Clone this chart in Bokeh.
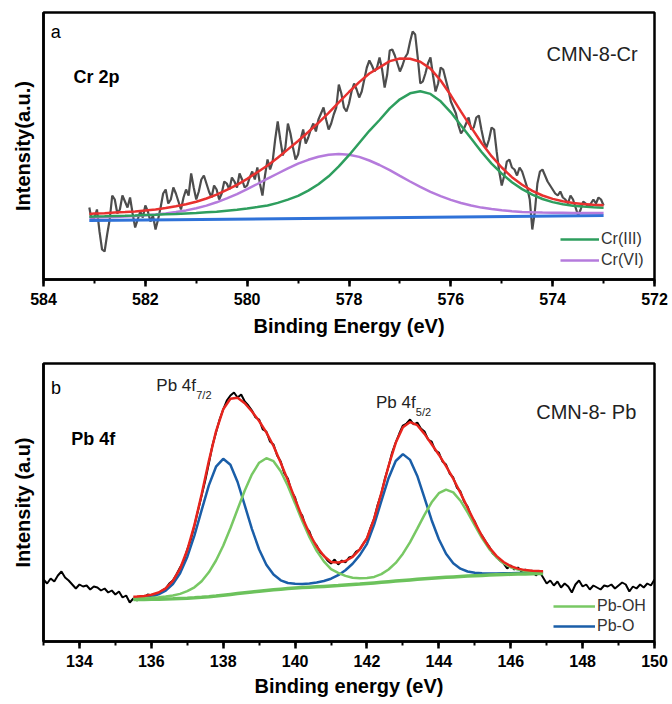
from bokeh.plotting import figure
from bokeh.layouts import column
from bokeh.models import Range1d, SingleIntervalTicker, FixedTicker, Label, Legend, LegendItem
from bokeh.embed import file_html
from bokeh.resources import INLINE

FONT = "Liberation Sans"

# ---------------- panel a : Cr 2p ----------------
cr_raw_be = [583.1, 583.05, 583.0, 582.95, 582.9, 582.85, 582.8, 582.75, 582.7, 582.65,
             582.6, 582.55, 582.5, 582.45, 582.4, 582.35, 582.3, 582.25, 582.2, 582.15,
             582.1, 582.05, 582.0, 581.95, 581.9, 581.85, 581.8, 581.75, 581.7, 581.65,
             581.6, 581.55, 581.5, 581.45, 581.4, 581.35, 581.3, 581.25, 581.2, 581.15,
             581.1, 581.05, 581.0, 580.95, 580.9, 580.85, 580.8, 580.75, 580.7, 580.65,
             580.6, 580.55, 580.5, 580.45, 580.4, 580.35, 580.3, 580.25, 580.2, 580.15,
             580.1, 580.05, 580.0, 579.95, 579.9, 579.85, 579.8, 579.75, 579.7, 579.65,
             579.6, 579.55, 579.5, 579.45, 579.4, 579.35, 579.3, 579.25, 579.2, 579.15,
             579.1, 579.05, 579.0, 578.95, 578.9, 578.85, 578.8, 578.75, 578.7, 578.65,
             578.6, 578.55, 578.5, 578.45, 578.4, 578.35, 578.3, 578.25, 578.2, 578.15,
             578.1, 578.05, 578.0, 577.95, 577.9, 577.85, 577.8, 577.75, 577.7, 577.65,
             577.6, 577.55, 577.5, 577.45, 577.4, 577.35, 577.3, 577.25, 577.2, 577.15,
             577.1, 577.05, 577.0, 576.95, 576.9, 576.85, 576.8, 576.75, 576.7, 576.65,
             576.6, 576.55, 576.5, 576.45, 576.4, 576.35, 576.3, 576.25, 576.2, 576.15,
             576.1, 576.05, 576.0, 575.95, 575.9, 575.85, 575.8, 575.75, 575.7, 575.65,
             575.6, 575.55, 575.5, 575.45, 575.4, 575.35, 575.3, 575.25, 575.2, 575.15,
             575.1, 575.05, 575.0, 574.95, 574.9, 574.85, 574.8, 574.75, 574.7, 574.65,
             574.6, 574.55, 574.5, 574.45, 574.4, 574.35, 574.3, 574.25, 574.2, 574.15,
             574.1, 574.05, 574.0, 573.95, 573.9, 573.85, 573.8, 573.75, 573.7, 573.65,
             573.6, 573.55, 573.5, 573.45, 573.4, 573.35, 573.3, 573.25, 573.2, 573.15,
             573.1, 573.05, 573.0]
cr_raw = [72, 58, 62, 70, 48, 30, 28, 45, 60, 84,
          80, 66, 70, 84, 78, 72, 82, 66, 52, 60,
          68, 62, 74, 68, 58, 64, 50, 60, 72, 86,
          90, 76, 80, 92, 86, 78, 70, 82, 90, 84,
          106, 92, 80, 88, 100, 104, 96, 88, 82, 94,
          90, 80, 86, 98, 96, 90, 102, 98, 92, 106,
          100, 92, 94, 102, 108, 100, 112, 96, 84, 104,
          120, 110, 118, 140, 158, 140, 124, 132, 156, 146,
          132, 120, 125, 140, 150, 136, 142, 150, 156, 148,
          160, 166, 172, 160, 150, 156, 165, 172, 195, 186,
          172, 168, 176, 188, 196, 190, 182, 188, 200, 212,
          219, 214, 208, 212, 222, 210, 192, 205, 229, 230,
          224, 216, 208, 214, 222, 226, 238, 248, 245, 222,
          196, 198, 206, 216, 222, 204, 188, 196, 212, 210,
          200, 190, 178, 172, 166, 154, 146, 150, 156, 162,
          150, 152, 162, 164, 150, 138, 132, 140, 152, 150,
          128, 108, 94, 104, 118, 120, 112, 110, 104, 112,
          108, 100, 92, 80, 50, 68, 96, 108, 110, 104,
          98, 94, 90, 86, 84, 88, 82, 80, 76, 84,
          80, 72, 64, 70, 78, 76, 72, 76, 80, 76,
          82, 80, 74]

cr_fit_be = [583.1, 583.0, 582.8, 582.6, 582.4, 582.2, 582.0, 581.8, 581.6, 581.4,
             581.2, 581.0, 580.8, 580.6, 580.4, 580.2, 580.0, 579.8, 579.6, 579.4,
             579.2, 579.0, 578.8, 578.6, 578.4, 578.2, 578.0, 577.8, 577.6, 577.4,
             577.2, 577.0, 576.8, 576.6, 576.4, 576.2, 576.0, 575.8, 575.6, 575.4,
             575.2, 575.0, 574.8, 574.6, 574.4, 574.2, 574.0, 573.8, 573.6, 573.4,
             573.2, 573.0]
cr3 = [62.8, 63.0, 63.2, 63.6, 63.8, 64.1, 64.5, 64.8, 65.2, 65.6,
       66.1, 66.6, 67.2, 67.8, 68.8, 69.8, 70.9, 72.4, 74.0, 76.6,
       79.9, 83.7, 88.9, 95.3, 103.2, 113.1, 124.3, 136.5, 148.7, 159.5,
       171.1, 180.2, 186.2, 188.3, 185.6, 178.2, 167.2, 154.1, 140.9, 127.8,
       115.9, 105.9, 97.2, 90.4, 84.8, 80.5, 77.4, 75.2, 73.8, 72.9,
       72.3, 71.8]
cr6 = [61.8, 61.9, 62.2, 62.6, 62.9, 63.5, 64.2, 65.0, 66.0, 67.4,
       69.1, 71.2, 73.9, 77.2, 81.1, 85.4, 90.3, 95.5, 100.8, 106.0,
       111.2, 115.8, 119.7, 122.7, 124.7, 125.5, 124.8, 122.6, 119.0, 114.5,
       109.3, 103.6, 98.0, 92.6, 87.7, 83.3, 79.6, 76.5, 74.0, 71.9,
       70.4, 69.2, 68.3, 67.6, 67.2, 66.9, 66.7, 66.7, 66.6, 66.5,
       66.5, 66.4]
cr_env = [65.6, 65.9, 66.2, 66.9, 67.4, 68.1, 69.1, 70.1, 71.4, 73.2,
          75.3, 77.8, 81.0, 84.8, 89.6, 94.7, 100.6, 107.3, 114.0, 121.7,
          130.1, 138.5, 147.5, 156.7, 166.6, 177.1, 187.5, 197.4, 206.0, 212.1,
          218.4, 221.0, 220.8, 217.8, 210.9, 199.0, 184.2, 167.9, 152.1, 136.8,
          123.3, 112.0, 102.3, 94.8, 88.6, 84.0, 80.6, 78.2, 76.6, 75.6,
          74.8, 74.2]
cr_base_be = [583.1, 573.0]
cr_base = [59.0, 64.0]

# ---------------- panel b : Pb 4f ----------------
pb_raw_be = [133.0, 133.1, 133.2, 133.3, 133.4, 133.5, 133.6, 133.7, 133.8, 133.9,
             134.0, 134.1, 134.2, 134.3, 134.4, 134.5, 134.6, 134.7, 134.8, 134.9,
             135.0, 135.1, 135.2, 135.3, 135.4, 135.5, 135.6, 135.7, 135.8, 135.9,
             136.0, 136.1, 136.2, 136.3, 136.4, 136.5, 136.6, 136.7, 136.8, 136.9,
             137.0, 137.1, 137.2, 137.3, 137.4, 137.5, 137.6, 137.7, 137.8, 137.9,
             138.0, 138.1, 138.2, 138.3, 138.4, 138.5, 138.6, 138.7, 138.8, 138.9,
             139.0, 139.1, 139.2, 139.3, 139.4, 139.5, 139.6, 139.7, 139.8, 139.9,
             140.0, 140.1, 140.2, 140.3, 140.4, 140.5, 140.6, 140.7, 140.8, 140.9,
             141.0, 141.1, 141.2, 141.3, 141.4, 141.5, 141.6, 141.7, 141.8, 141.9,
             142.0, 142.1, 142.2, 142.3, 142.4, 142.5, 142.6, 142.7, 142.8, 142.9,
             143.0, 143.1, 143.2, 143.3, 143.4, 143.5, 143.6, 143.7, 143.8, 143.9,
             144.0, 144.1, 144.2, 144.3, 144.4, 144.5, 144.6, 144.7, 144.8, 144.9,
             145.0, 145.1, 145.2, 145.3, 145.4, 145.5, 145.6, 145.7, 145.8, 145.9,
             146.0, 146.1, 146.2, 146.3, 146.4, 146.5, 146.6, 146.7, 146.8, 146.9,
             147.0, 147.1, 147.2, 147.3, 147.4, 147.5, 147.6, 147.7, 147.8, 147.9,
             148.0, 148.1, 148.2, 148.3, 148.4, 148.5, 148.6, 148.7, 148.8, 148.9,
             149.0, 149.1, 149.2, 149.3, 149.4, 149.5, 149.6, 149.7, 149.8, 149.9,
             150.0]
pb_raw = [62, 58, 63, 60, 66, 70, 64, 61, 57, 53,
          57, 55, 56, 52, 55, 54, 51, 53, 49, 51,
          47, 50, 44, 46, 39, 43, 41, 45, 44, 47,
          46, 46, 48, 51, 53, 58, 61, 67, 74, 80,
          92, 102, 116, 131, 146, 161, 178, 196, 209, 222,
          232, 241, 246, 249, 244, 247, 240, 236, 231, 224,
          222, 212, 210, 200, 197, 186, 180, 168, 163, 150,
          144, 131, 126, 114, 110, 100, 96, 89, 86, 81,
          78, 82, 77, 81, 79, 84, 85, 90, 92, 98,
          103, 114, 123, 137, 148, 163, 175, 189, 199, 208,
          216, 218, 222, 217, 219, 213, 210, 202, 200, 191,
          189, 180, 177, 168, 164, 154, 150, 140, 135, 125,
          120, 111, 106, 100, 95, 88, 85, 81, 78, 73,
          76, 72, 74, 70, 72, 69, 71, 66, 70, 64,
          58, 61, 56, 60, 54, 58, 55, 49, 57, 61,
          55, 57, 52, 56, 54, 52, 56, 55, 57, 53,
          56, 59, 57, 50, 55, 53, 57, 54, 58, 56,
          62]

pb_fit_be = [135.5, 135.6, 135.8, 136.0, 136.2, 136.4, 136.6, 136.8, 137.0, 137.2,
             137.4, 137.6, 137.8, 138.0, 138.2, 138.4, 138.6, 138.8, 139.0, 139.2,
             139.4, 139.6, 139.8, 140.0, 140.2, 140.4, 140.6, 140.8, 141.0, 141.2,
             141.4, 141.6, 141.8, 142.0, 142.2, 142.4, 142.6, 142.8, 143.0, 143.2,
             143.4, 143.6, 143.8, 144.0, 144.2, 144.4, 144.6, 144.8, 145.0, 145.2,
             145.4, 145.6, 145.8, 146.0, 146.2, 146.4, 146.6, 146.8, 146.9]
pb_bg = [42.0, 42.0, 42.1, 42.2, 42.3, 42.5, 42.7, 43.0, 43.3, 43.7,
         44.2, 44.8, 45.5, 46.3, 47.1, 47.9, 48.7, 49.5, 50.3, 51.0,
         51.7, 52.3, 52.9, 53.4, 53.9, 54.3, 54.7, 55.1, 55.5, 55.9,
         56.4, 56.9, 57.4, 58.0, 58.6, 59.2, 59.8, 60.4, 61.0, 61.6,
         62.2, 62.7, 63.2, 63.7, 64.2, 64.6, 65.0, 65.4, 65.8, 66.1,
         66.4, 66.7, 67.0, 67.2, 67.4, 67.6, 67.8, 68.0, 68.1]
pb_o = [43.6, 43.7, 44.2, 45.3, 47.2, 50.8, 57.4, 68.3, 84.6, 106.2,
        131.3, 156.1, 174.8, 182.7, 176.7, 159.5, 136.1, 112.4, 92.0, 76.8,
        66.9, 61.2, 58.5, 57.7, 57.5, 58.0, 59.0, 60.5, 62.8, 66.3,
        71.3, 77.8, 86.4, 97.7, 116.9, 140.3, 163.3, 180.5, 187.4, 181.6,
        165.6, 143.6, 121.3, 102.2, 87.7, 78.3, 72.8, 70.0, 68.8, 68.2,
        68.1, 68.1, 68.2, 68.3, 68.4, 68.5, 68.6, 68.8, 68.9]
pb_oh = [43.2, 43.2, 43.5, 43.8, 44.2, 44.9, 46.0, 47.6, 50.3, 54.2,
         60.3, 69.2, 81.0, 95.8, 113.2, 132.2, 151.0, 167.2, 178.8, 183.3,
         180.3, 170.3, 155.5, 138.1, 120.4, 104.3, 90.7, 80.1, 72.3, 68.7,
         65.6, 63.7, 63.2, 63.5, 64.6, 67.4, 72.0, 78.6, 87.8, 99.4,
         112.9, 126.7, 139.2, 148.3, 151.8, 149.1, 140.8, 129.1, 116.2, 103.4,
         92.6, 84.2, 78.3, 74.2, 71.9, 70.5, 69.9, 69.6, 69.5]
pb_env = [44.8, 44.9, 45.6, 46.8, 49.0, 53.1, 60.6, 72.8, 91.5, 116.6,
          147.3, 180.4, 210.2, 232.2, 242.7, 243.7, 238.3, 230.0, 220.5, 209.1,
          195.5, 178.8, 161.1, 142.4, 124.0, 108.0, 95.0, 85.5, 79.6, 79.1,
          80.5, 84.6, 92.2, 103.2, 122.9, 148.5, 175.5, 198.7, 214.2, 219.4,
          216.3, 207.6, 197.3, 186.8, 175.3, 162.8, 148.6, 133.7, 119.2, 105.5,
          94.3, 85.6, 79.5, 75.3, 72.9, 71.4, 70.7, 70.4, 70.3]


def style(p, xlabel, ylabel, title_standoff):
    p.outline_line_color = "black"
    p.outline_line_width = 2.5
    p.outline_line_alpha = 1.0
    p.xgrid.visible = False
    p.ygrid.visible = False
    p.background_fill_color = "white"
    p.border_fill_color = "white"
    xa = p.xaxis[0]
    xa.ticker = SingleIntervalTicker(interval=2, num_minor_ticks=2)
    xa.axis_label = xlabel
    xa.axis_label_text_font = FONT
    xa.axis_label_text_font_size = "20px"
    xa.axis_label_text_font_style = "bold"
    xa.axis_label_text_color = "black"
    xa.axis_label_standoff = title_standoff
    xa.major_label_text_font = FONT
    xa.major_label_text_font_size = "16px"
    xa.major_label_text_font_style = "bold"
    xa.major_label_text_color = "black"
    xa.major_label_standoff = 6
    xa.axis_line_width = 2.5
    xa.axis_line_color = "black"
    xa.major_tick_out = 7
    xa.major_tick_in = 0
    xa.major_tick_line_width = 2.5
    xa.major_tick_line_color = "black"
    xa.minor_tick_out = 4
    xa.minor_tick_in = 0
    xa.minor_tick_line_width = 2
    xa.minor_tick_line_color = "black"
    ya = p.yaxis[0]
    ya.ticker = FixedTicker(ticks=[])
    ya.axis_label = ylabel
    ya.axis_label_text_font = FONT
    ya.axis_label_text_font_size = "20px"
    ya.axis_label_text_font_style = "bold"
    ya.axis_label_text_color = "black"
    ya.axis_label_standoff = 10
    ya.major_tick_out = 0
    ya.major_tick_in = 0
    ya.minor_tick_out = 0
    ya.minor_tick_in = 0
    ya.axis_line_width = 2.5
    ya.axis_line_color = "black"


def add_label(p, x, y, text, size, bold=False, color="black"):
    p.add_layout(Label(x=x, y=y, text=text, text_font=FONT, text_font_size=size,
                       text_font_style="bold" if bold else "normal",
                       text_color=color, text_baseline="middle", text_align="left"))


# ---------- panel a ----------
p1 = figure(width=672, height=345, x_range=Range1d(584, 572), y_range=Range1d(0, 267),
            output_backend="svg", toolbar_location=None,
            min_border_left=42, min_border_right=15, min_border_top=12, min_border_bottom=66)
style(p1, "Binding Energy (eV)", "Intensity(a.u.)", 7)

p1.line(cr_raw_be, cr_raw, line_color="#4d4d4d", line_width=2.2)
p1.line(cr_base_be, cr_base, line_color="#2f72d8", line_width=3)
r_cr6 = p1.line(cr_fit_be, cr6, line_color="#b57bdc", line_width=2.5)
r_cr3 = p1.line(cr_fit_be, cr3, line_color="#2e9e5e", line_width=2.5)
p1.line(cr_fit_be, cr_env, line_color="#e8312f", line_width=2.5)

add_label(p1, 583.86, 248, "a", "18px")
add_label(p1, 583.41, 203, "Cr 2p", "18px", bold=True)
add_label(p1, 574.12, 226, "CMN-8-Cr", "20px", color="#222222")

leg1 = Legend(items=[LegendItem(label="Cr(III)", renderers=[r_cr3]),
                     LegendItem(label="Cr(VI)", renderers=[r_cr6])],
              location=(517, 9), orientation="vertical",
              glyph_width=39, glyph_height=20, label_height=20, spacing=1,
              padding=0, margin=0, label_standoff=2,
              label_text_font=FONT, label_text_font_size="16px", label_text_color="#333333",
              border_line_color=None, background_fill_alpha=0)
p1.add_layout(leg1)

# ---------- panel b ----------
p2 = figure(width=672, height=359, x_range=Range1d(133, 150), y_range=Range1d(0, 278),
            output_backend="svg", toolbar_location=None,
            min_border_left=43, min_border_right=18, min_border_top=18, min_border_bottom=63)
style(p2, "Binding energy (eV)", "Intensity (a.u)", 5)

p2.line(pb_raw_be, pb_raw, line_color="black", line_width=2)
r_pbo = p2.line(pb_fit_be, pb_o, line_color="#1a5ea8", line_width=2.5)
r_pboh = p2.line(pb_fit_be, pb_oh, line_color="#78c864", line_width=2.5)
p2.line(pb_fit_be, pb_bg, line_color="#6cc25c", line_width=3.5)
p2.line(pb_fit_be, pb_env, line_color="#e8241d", line_width=2.5)

add_label(p2, 133.21, 254, "b", "18px")
add_label(p2, 133.77, 203, "Pb 4f", "18px", bold=True)
add_label(p2, 146.71, 230, "CMN-8- Pb", "20px", color="#222222")
add_label(p2, 136.14, 256, "Pb 4f", "17px", color="#222222")
add_label(p2, 137.25, 247, "7/2", "11px", color="#222222")
add_label(p2, 142.25, 239, "Pb 4f", "17px", color="#222222")
add_label(p2, 143.36, 230, "5/2", "11px", color="#222222")

leg2 = Legend(items=[LegendItem(label="Pb-OH", renderers=[r_pboh]),
                     LegendItem(label="Pb-O", renderers=[r_pbo])],
              location=(510, 5), orientation="vertical",
              glyph_width=42, glyph_height=20, label_height=20, spacing=0,
              padding=0, margin=0, label_standoff=2,
              label_text_font=FONT, label_text_font_size="16px", label_text_color="#333333",
              border_line_color=None, background_fill_alpha=0)
p2.add_layout(leg2)

layout = column(p1, p2, spacing=0)
open("out.html", "w").write(file_html(layout, INLINE))
